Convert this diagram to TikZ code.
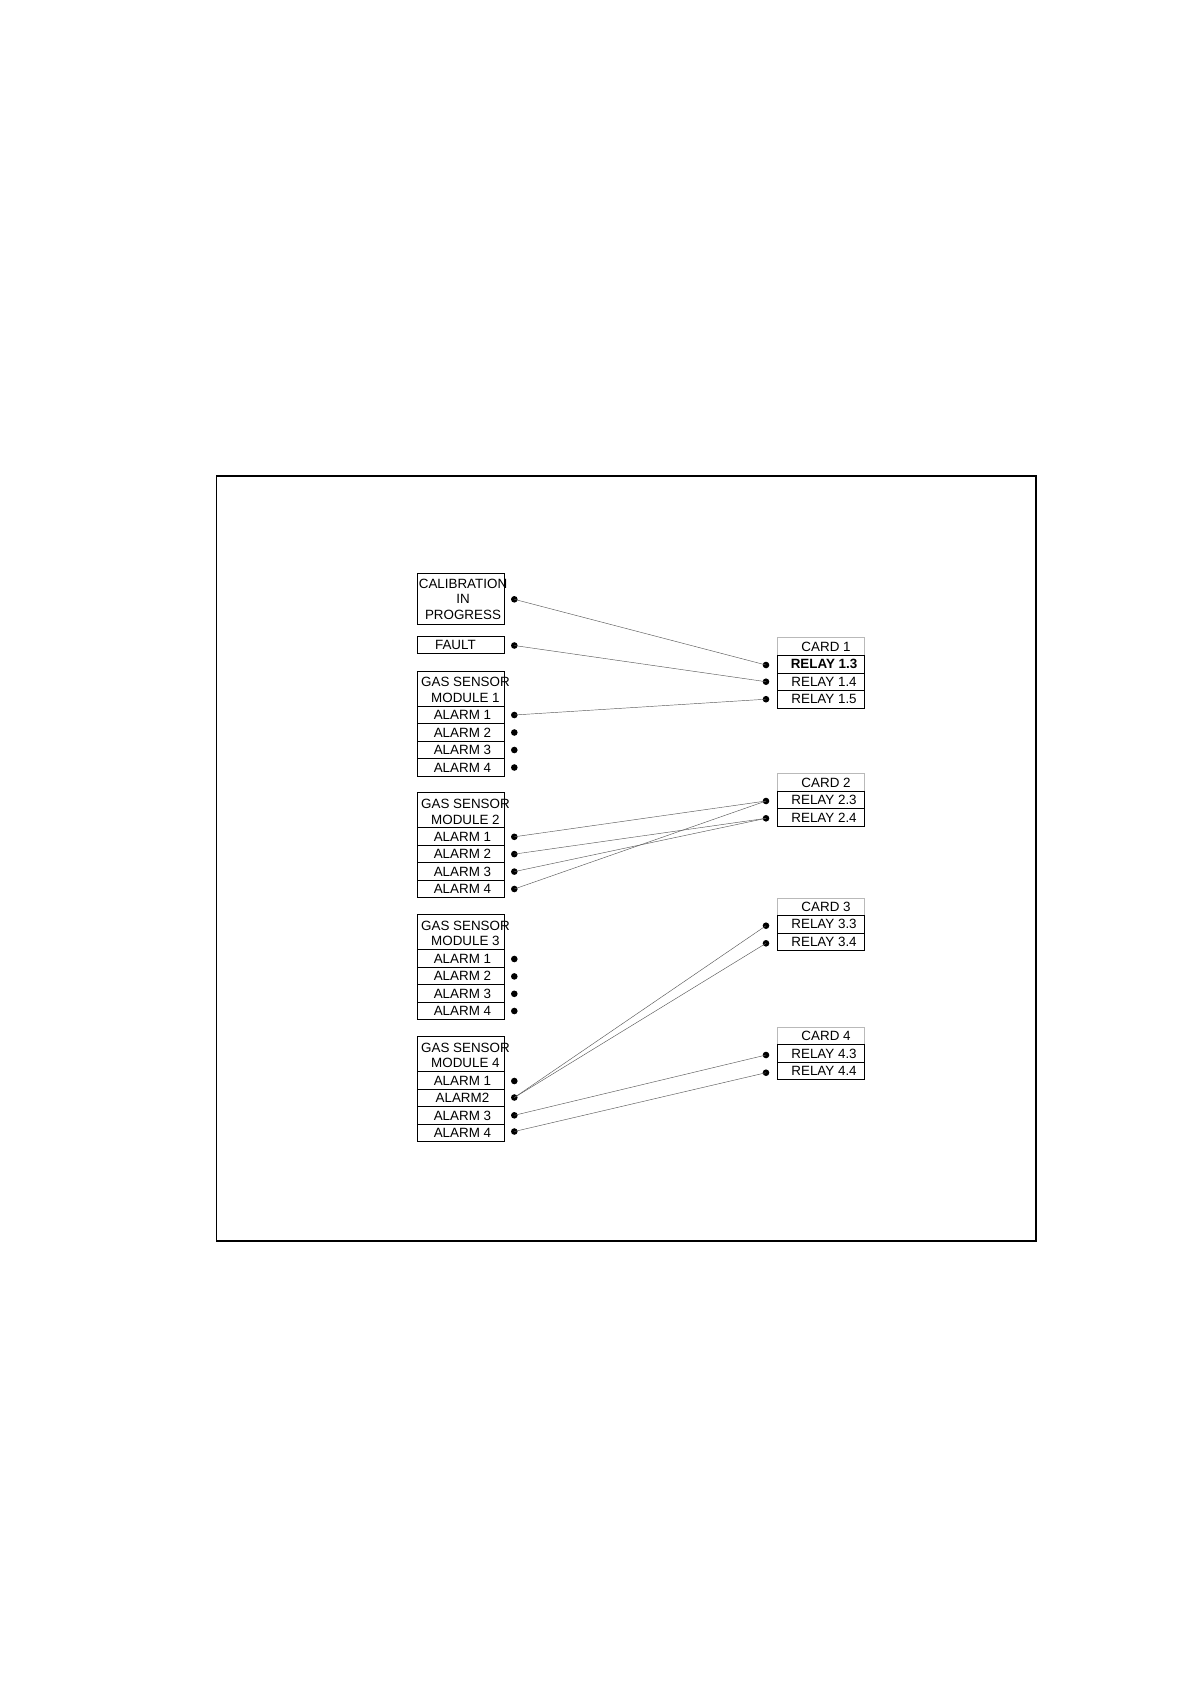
\documentclass[tikz,border=0pt]{standalone}
\usepackage{fontspec}
\setmainfont{Liberation Sans}
\begin{document}
\begin{tikzpicture}[x=1pt,y=-1pt,
  txt/.style={font=\fontsize{13.4}{15.6}\selectfont},
  cell/.style={txt, draw, line width=0.8pt, minimum width=87.3pt, minimum height=17.5pt,
    inner sep=0pt, anchor=north west, text height=9.5pt, text depth=0pt},
  alarmcell/.style={cell, execute at begin node=\hspace*{3.4pt}},
  relaycell/.style={cell, execute at begin node=\hspace*{6pt}},
  cardhead/.style={cell, draw=gray!55, execute at begin node=\hspace*{10pt}},
  headcell/.style={draw, line width=0.8pt, minimum width=87.3pt, minimum height=35pt,
    inner sep=0pt, anchor=north west},
  headtext/.style={txt, align=center, inner sep=0pt},
  dot/.style={circle, fill=black, inner sep=0pt, minimum size=6.6pt},
  wire/.style={draw=gray!70!black, line width=0.45pt}
]
\useasboundingbox (0,0) rectangle (1190,1684);
\draw[line width=1.6pt] (216.5,475.7) rectangle (1036,1241);

% ---- left column ----
\node[headcell, minimum height=50.7pt] (cal) at (416.7,573.3) {};
\node[headtext] (calt) at (463,599.3) {CALIBRATION\\IN\\PROGRESS};
\node[dot] (dcal) at (514.3,599.3) {};
\node[cell, minimum height=17pt, execute at begin node=\hspace*{-10.6pt}] (fault) at (416.7,635.7) {FAULT};
\node[dot] (dfault) at (514.3,645.5) {};

% module 1
\node[headcell] (m1) at (416.7,670.7) {};
\node[headtext] (m1t) at ([xshift=4.7pt,yshift=-1.5pt]m1.center) {GAS SENSOR\\MODULE 1};
\node[alarmcell] (m1a1) at (416.7,705.7) {ALARM 1};
\node[alarmcell] (m1a2) at (416.7,723.2) {ALARM 2};
\node[alarmcell] (m1a3) at (416.7,740.7) {ALARM 3};
\node[alarmcell] (m1a4) at (416.7,758.2) {ALARM 4};
\node[dot] (d1a1) at (514.3,715) {};
\node[dot] (d1a2) at (514.3,732.5) {};
\node[dot] (d1a3) at (514.3,750) {};
\node[dot] (d1a4) at (514.3,767.5) {};

% module 2
\node[headcell] (m2) at (416.7,792.3) {};
\node[headtext] (m2t) at ([xshift=4.7pt,yshift=-1.5pt]m2.center) {GAS SENSOR\\MODULE 2};
\node[alarmcell] (m2a1) at (416.7,827.3) {ALARM 1};
\node[alarmcell] (m2a2) at (416.7,844.8) {ALARM 2};
\node[alarmcell] (m2a3) at (416.7,862.3) {ALARM 3};
\node[alarmcell] (m2a4) at (416.7,879.8) {ALARM 4};
\node[dot] (d2a1) at (514.3,836.8) {};
\node[dot] (d2a2) at (514.3,854.1) {};
\node[dot] (d2a3) at (514.3,871.6) {};
\node[dot] (d2a4) at (514.3,889) {};

% module 3
\node[headcell] (m3) at (416.7,914) {};
\node[headtext] (m3t) at ([xshift=4.7pt,yshift=-1.5pt]m3.center) {GAS SENSOR\\MODULE 3};
\node[alarmcell] (m3a1) at (416.7,949.3) {ALARM 1};
\node[alarmcell] (m3a2) at (416.7,966.8) {ALARM 2};
\node[alarmcell] (m3a3) at (416.7,984.3) {ALARM 3};
\node[alarmcell] (m3a4) at (416.7,1001.8) {ALARM 4};
\node[dot] (d3a1) at (514.3,959) {};
\node[dot] (d3a2) at (514.3,976.4) {};
\node[dot] (d3a3) at (514.3,993.8) {};
\node[dot] (d3a4) at (514.3,1011) {};

% module 4
\node[headcell] (m4) at (416.7,1036) {};
\node[headtext] (m4t) at ([xshift=4.7pt,yshift=-1.5pt]m4.center) {GAS SENSOR\\MODULE 4};
\node[alarmcell] (m4a1) at (416.7,1071.3) {ALARM 1};
\node[alarmcell] (m4a2) at (416.7,1088.8) {ALARM2};
\node[alarmcell] (m4a3) at (416.7,1106.3) {ALARM 3};
\node[alarmcell] (m4a4) at (416.7,1123.8) {ALARM 4};
\node[dot] (d4a1) at (514.3,1081) {};
\node[dot] (d4a2) at (514.3,1097.5) {};
\node[dot] (d4a3) at (514.3,1115.3) {};
\node[dot] (d4a4) at (514.3,1131.5) {};

% ---- right column ----
\node[cardhead] (c1) at (777,637.3) {CARD 1};
\node[relaycell] (r13) at (777,655) {\textbf{RELAY 1.3}};
\node[relaycell] (r14) at (777,672.5) {RELAY 1.4};
\node[relaycell] (r15) at (777,690) {RELAY 1.5};
\node[dot] (dr13) at (766,665) {};
\node[dot] (dr14) at (766,681.7) {};
\node[dot] (dr15) at (766,699.2) {};

\node[cardhead] (c2) at (777,773.3) {CARD 2};
\node[relaycell] (r23) at (777,790.8) {RELAY 2.3};
\node[relaycell] (r24) at (777,808.3) {RELAY 2.4};
\node[dot] (dr23) at (766,801) {};
\node[dot] (dr24) at (766,818.3) {};

\node[cardhead] (c3) at (777,897.5) {CARD 3};
\node[relaycell] (r33) at (777,915) {RELAY 3.3};
\node[relaycell] (r34) at (777,932.5) {RELAY 3.4};
\node[dot] (dr33) at (766,925.7) {};
\node[dot] (dr34) at (766,943.3) {};

\node[cardhead] (c4) at (777,1026.7) {CARD 4};
\node[relaycell] (r43) at (777,1044.2) {RELAY 4.3};
\node[relaycell] (r44) at (777,1061.7) {RELAY 4.4};
\node[dot] (dr43) at (766,1055) {};
\node[dot] (dr44) at (766,1072.7) {};

% ---- wires ----
\draw[wire] (dcal.center) -- (dr13.center);
\draw[wire] (dfault.center) -- (dr14.center);
\draw[wire] (d1a1.center) -- (dr15.center);
\draw[wire] (d2a1.center) -- (dr23.center);
\draw[wire] (d2a2.center) -- (dr24.center);
\draw[wire] (d2a3.center) -- (dr24.center);
\draw[wire] (d2a4.center) -- (dr23.center);
\draw[wire] (d4a2.center) -- (dr33.center);
\draw[wire] (d4a2.center) -- (dr34.center);
\draw[wire] (d4a3.center) -- (dr43.center);
\draw[wire] (d4a4.center) -- (dr44.center);
\end{tikzpicture}
\end{document}
